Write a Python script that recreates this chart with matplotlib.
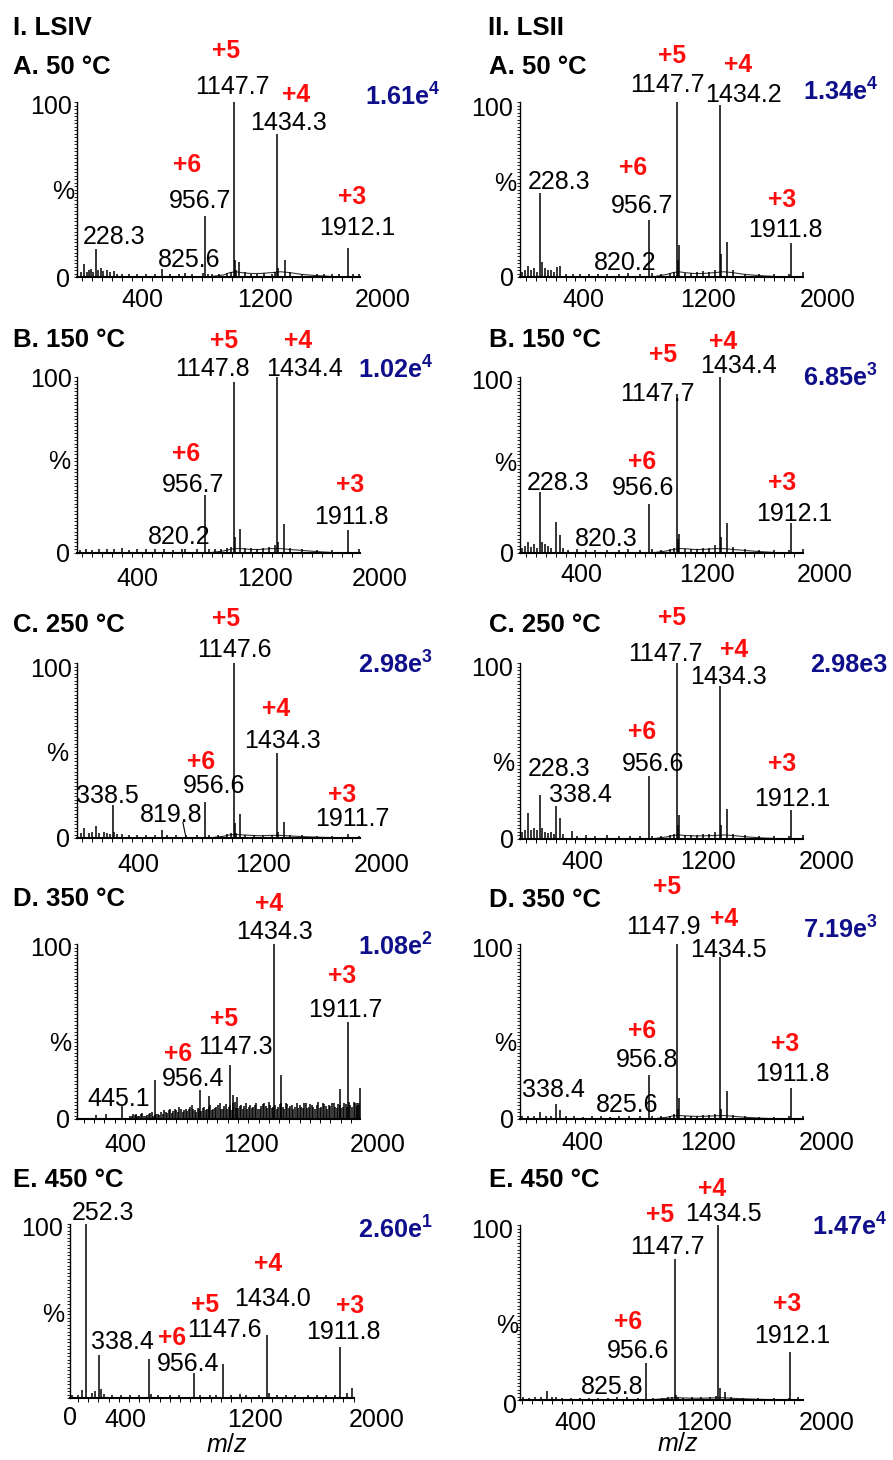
import numpy as np
import matplotlib
matplotlib.use('Agg')
import matplotlib.pyplot as plt
from matplotlib.ticker import MultipleLocator, NullLocator

plt.rcParams['font.family'] = ['Liberation Sans', 'DejaVu Sans']
plt.rcParams['mathtext.fontset'] = 'custom'
plt.rcParams['mathtext.rm'] = 'Liberation Sans'
plt.rcParams['mathtext.it'] = 'Liberation Sans:italic'
plt.rcParams['mathtext.bf'] = 'Liberation Sans:bold'

# ---------------- data (m/z, relative intensity %) ----------------
hump_mz = [1000, 1080, 1120, 1160, 1200, 1260, 1320, 1400, 1460, 1520, 1600, 1700, 1800]

# I. LSIV
IA_mz = [130, 149, 165, 180, 195, 210, 228.3, 240, 260, 275, 300, 320, 345, 365, 400, 450, 500, 560, 620, 665,
         720, 780, 820.2, 870, 940, 956.7, 975, 1000, 1050, 1100, 1130, 1147.7, 1152, 1165, 1182, 1220, 1260,
         1300, 1350, 1400, 1420, 1434.3, 1440, 1487, 1520, 1600, 1700, 1750, 1800, 1850, 1912.1, 1940, 1985]
IA_int = [3, 7.6, 3, 4, 4.5, 3, 16.2, 4, 5, 3.5, 4, 3, 3.5, 2, 1.5, 1.5, 2, 1.5, 1.5, 4.8,
          1.5, 2, 2.3, 1.5, 2.5, 34.9, 1.5, 1.5, 2, 2.5, 3, 100, 9.5, 4, 8.6, 3, 2,
          2, 2.5, 2, 3, 81.9, 5, 10, 3, 2, 1.5, 1.5, 1.5, 1.5, 16.6, 1.5, 2]
IA_hump = [0.3, 1.2, 2.5, 3, 2.5, 2, 2, 2.5, 3, 2.5, 1.5, 0.8, 0.3]

IB_mz = [120, 160, 200, 250, 300, 350, 400, 450, 500, 560, 620, 680, 740, 800, 820.2, 900, 956.7, 980, 1020,
         1060, 1100, 1130, 1147.8, 1152, 1187, 1220, 1260, 1300, 1340, 1380, 1420, 1434.4, 1442, 1480, 1520,
         1600, 1700, 1800, 1911.8, 1980]
IB_int = [1.5, 2, 1.5, 2, 2.5, 2, 3, 1.5, 2.5, 2, 2.5, 2, 1.5, 2, 2.5, 2.5, 33, 2, 2,
          2.5, 3, 3.5, 97.2, 8.9, 13.8, 3, 3, 2.5, 3, 3.5, 4.5, 100, 6, 16.6, 3,
          2, 1.5, 1.5, 12.8, 2]
IB_hump = [0.3, 1.2, 2, 2.5, 2.5, 2, 2, 2.5, 2.5, 2, 1.5, 0.8, 0.3]

IC_mz = [130, 150, 180, 200, 227, 250, 280, 300, 320, 338.5, 350, 370, 400, 450, 500, 560, 620, 665, 700, 760,
         825, 900, 956.6, 980, 1040, 1100, 1130, 1147.6, 1152, 1165, 1187, 1220, 1280, 1340, 1400, 1434.3, 1445,
         1480, 1520, 1600, 1700, 1800, 1911.7, 1980]
IC_int = [3, 5.7, 3, 3.5, 7, 3, 3.5, 3, 2.5, 19, 3.5, 2.5, 2.5, 2, 2, 1.5, 2, 4.4, 1.5, 1.5,
          1.5, 1.5, 20.5, 1.5, 1.5, 2.5, 3, 100, 8.5, 3, 13.9, 2, 1.5, 1.5, 2, 48.8, 3.5,
          9.1, 2, 1.5, 1, 1, 2.5, 1]
IC_hump = [0.2, 1, 1.8, 2, 1.8, 1.5, 1.3, 1.5, 1.5, 1.2, 0.8, 0.5, 0.2]

ID_mz = [280, 340, 445.1, 540, 664, 956.4, 1013, 1147.3, 1170, 1195, 1434.3, 1480, 1860, 1911.7, 1975, 1990]
ID_int = [2.5, 3, 7.6, 3, 22.1, 16.8, 13, 31, 13.9, 12.4, 100, 25.3, 17.1, 55.4, 9, 17.7]
ID_noise_mz = [500, 520, 540, 560, 580, 600, 620, 640, 660, 680,
               700, 720, 740, 760, 780, 800, 820, 840, 860, 880, 900, 920, 940, 960, 980,
               1000, 1020, 1040, 1060, 1080, 1100, 1120, 1140, 1160, 1180, 1200, 1220, 1240, 1260, 1280,
               1300, 1320, 1340, 1360, 1380, 1400, 1420, 1440, 1460, 1480, 1500, 1520, 1540, 1560, 1580,
               1600, 1620, 1640, 1660, 1680, 1700, 1720, 1740, 1760, 1780, 1800, 1820, 1840, 1860, 1880,
               1900, 1920, 1940, 1960, 1980]
ID_noise_int = [2, 3, 2.5, 2, 3.5, 2, 3, 4, 2.5, 3,
                4, 5, 3.5, 6, 4.5, 5, 7, 4, 6, 5.5, 8, 5, 6.5, 4.5, 7,
                6, 8, 5.5, 7, 9, 6, 8.5, 7, 5, 9.5, 6.5, 8, 7.5, 6, 8,
                7, 9, 6, 8.5, 7.5, 10, 6.5, 8, 7, 9, 6, 8.5, 7.5, 6, 9,
                8, 6.5, 9, 7, 8, 6, 9.5, 7, 8.5, 6, 7.5, 9, 6.5, 8, 7,
                8.5, 10, 7, 9, 8]
ID_noise2_mz = [510, 530, 550, 570, 590, 610, 630, 650, 670, 690,
                710, 730, 750, 770, 790, 810, 830, 850, 870, 890, 910, 930, 950, 970, 990,
                1010, 1030, 1050, 1070, 1090, 1110, 1130, 1150, 1170, 1190, 1210, 1230, 1250, 1270, 1290,
                1310, 1330, 1350, 1370, 1390, 1410, 1430, 1450, 1470, 1490, 1510, 1530, 1550, 1570, 1590,
                1610, 1630, 1650, 1670, 1690, 1710, 1730, 1750, 1770, 1790, 1810, 1830, 1850, 1870, 1890,
                1910, 1930, 1950, 1970, 1985]
ID_noise2_int = [1.5, 2.5, 2, 3, 2, 2.5, 3.5, 2, 3, 2.5,
                 3, 4, 5, 3.5, 5.5, 4, 6, 5, 4.5, 7, 6, 4, 5.5, 6.5, 5,
                 7, 5, 6.5, 8, 5.5, 7.5, 6, 8, 9, 6.5, 7.5, 5.5, 9, 7, 6.5,
                 8, 6, 7.5, 9, 6.5, 8, 7, 6, 8.5, 7, 9, 6.5, 8, 7, 6.5,
                 7, 9, 6.5, 8.5, 7, 8, 6.5, 9, 7.5, 8, 9, 7, 8.5, 6.5, 9,
                 7, 8, 9.5, 7.5, 9]

IE_mz = [160, 200, 226, 252.3, 290, 310, 338.4, 350, 370, 420, 480, 540, 600, 664, 680, 720, 800, 860, 956.4,
         1000, 1060, 1100, 1147.6, 1200, 1260, 1300, 1380, 1434.0, 1450, 1500, 1560, 1620, 1700, 1760, 1820,
         1880, 1911.8, 1960, 1990]
IE_int = [1.5, 2, 4.4, 100, 3, 4, 24.9, 5, 2.5, 1.5, 2, 1.5, 2, 22.6, 2.5, 1.5, 1.5, 2, 14.3,
          1.5, 2, 1.5, 19.7, 1.5, 2.5, 2, 1.5, 36.3, 3, 2, 1.5, 2, 1.5, 2, 1.5,
          2, 29.4, 3, 6]

# II. LSII
IIA_mz = [110, 130, 150, 170, 190, 210, 228.3, 245, 260, 280, 300, 320, 342, 362, 400, 450, 500, 560, 620, 680,
          760, 820.2, 900, 956.7, 980, 1040, 1100, 1130, 1147.7, 1152, 1160, 1200, 1240, 1280, 1320, 1360, 1400,
          1434.2, 1440, 1480, 1520, 1600, 1700, 1800, 1900, 1911.8, 1990]
IIA_int = [3, 4, 6.3, 4, 5, 3, 48, 8.6, 5, 4, 4, 3, 5.7, 6.3, 2, 1.5, 1.5, 1.5, 1.5, 1.5,
           2, 2.5, 1.5, 32.8, 2.5, 1.5, 2.5, 3, 100, 9.5, 18.1, 2.5, 2.5, 3, 3.5, 3, 4,
           98.1, 13, 20, 4, 2, 1.5, 1.5, 1.5, 19.4, 3]
IIA_hump = [0.3, 1.5, 2.5, 3, 2.5, 2, 2, 2.5, 3, 2.5, 1.5, 0.8, 0.3]

IIB_mz = [110, 130, 150, 170, 190, 210, 228.3, 245, 260, 280, 300, 338, 360, 380, 420, 480, 540, 600, 680, 760,
          820.3, 900, 956.6, 980, 1040, 1100, 1130, 1147.7, 1152, 1160, 1200, 1240, 1280, 1320, 1360, 1400,
          1434.4, 1440, 1480, 1520, 1600, 1700, 1800, 1900, 1912.1, 1990]
IIB_int = [3, 4, 6, 3.5, 5, 3, 34.5, 6, 5, 4, 3, 17.6, 10.4, 3, 1.5, 2, 1.5, 1.5, 1.5, 1.5,
           2, 1.5, 28, 2, 1.5, 2.5, 3, 90.5, 8, 11, 2, 2, 2.5, 3, 3, 4.5,
           100, 9, 17, 3.5, 2, 1.5, 1.5, 1.5, 17, 2.5]
IIB_hump = [0.3, 1.2, 2, 2.5, 2.5, 2, 2, 2.5, 2.5, 2, 1.5, 0.8, 0.3]

IIC_mz = [110, 130, 151, 170, 190, 210, 227, 245, 260, 280, 300, 320, 338, 360, 380, 444, 480, 540, 600, 680,
          760, 830, 900, 956.6, 980, 1040, 1100, 1130, 1147.7, 1152, 1160, 1200, 1240, 1280, 1320, 1360, 1400,
          1434.3, 1440, 1480, 1520, 1600, 1700, 1800, 1900, 1912.1, 1990]
IIC_int = [4, 5, 14.8, 5, 6, 5, 25.2, 6, 4, 3.5, 4, 3, 18.6, 12, 3, 4.4, 1.5, 2, 1.5, 2,
           1.5, 1.5, 1.5, 36, 1.5, 1.5, 2.5, 3, 100, 8, 13.8, 2, 2, 2.5, 3, 3, 4,
           87.1, 8, 17, 3, 2, 1.5, 1.5, 1.5, 16.3, 2.5]
IIC_hump = [0.3, 1.2, 2, 2.3, 2, 1.8, 1.8, 2, 2.3, 2, 1.3, 0.7, 0.3]

IID_mz = [110, 150, 190, 230, 270, 300, 338, 360, 400, 460, 520, 580, 640, 700, 760, 825.6, 900, 956.8, 980,
          1040, 1100, 1130, 1147.9, 1152, 1160, 1200, 1240, 1280, 1320, 1360, 1400, 1434.5, 1440, 1480, 1520,
          1600, 1700, 1800, 1900, 1911.8, 1990]
IID_int = [2, 1.5, 2, 3.8, 1.5, 2, 8.6, 5, 1.5, 1.5, 1, 1.5, 1.5, 1, 2, 2, 1.5, 24.9, 1.5,
           1.5, 2, 3, 100, 6, 12, 1.5, 1.5, 2, 2.5, 2.5, 3, 92.8, 6, 16.2, 2.5,
           1.5, 1, 1, 1.5, 17.7, 2]
IID_hump = [0.2, 1, 1.8, 2, 1.8, 1.5, 1.5, 1.8, 2, 1.6, 1, 0.5, 0.2]

IIE_mz = [140, 180, 220, 260, 300, 330, 360, 400, 460, 520, 580, 640, 700, 760, 825.8, 900, 956.6, 1000, 1060,
          1100, 1130, 1147.7, 1152, 1170, 1200, 1260, 1320, 1380, 1420, 1434.5, 1442, 1480, 1520, 1600, 1700,
          1800, 1900, 1912.1, 1960]
IIE_int = [1.5, 1, 2, 1.5, 5.3, 2, 1.5, 1, 1, 1, 1, 1, 1, 1.5, 1.5, 1, 21.3, 1, 1,
           1.5, 2, 80.4, 2.9, 2, 1, 1.5, 1.5, 2, 2.5, 100, 7, 4.8, 1.5, 1, 1,
           1, 1, 27.6, 1.5]
IIE_hump = [0.2, 0.8, 1.2, 1.3, 1.2, 1, 1, 1.2, 1.3, 1, 0.7, 0.4, 0.2]

for a, b in [(IA_mz, IA_int), (IB_mz, IB_int), (IC_mz, IC_int), (ID_mz, ID_int), (ID_noise_mz, ID_noise_int),
             (ID_noise2_mz, ID_noise2_int), (IE_mz, IE_int), (IIA_mz, IIA_int), (IIB_mz, IIB_int),
             (IIC_mz, IIC_int), (IID_mz, IID_int), (IIE_mz, IIE_int)]:
    assert len(a) == len(b), (len(a), len(b))

xtick_labels = ['400', '1200', '2000']

# ---------------- layout (pixels) ----------------
W, H = 893, 1460
fig = plt.figure(figsize=(W / 100, H / 100), dpi=100)

FS = 18
RED = '#ff0d0d'
BLUE = '#0f0f8c'


def T(px, py, s, size=FS, ha='center', color='black', weight='normal'):
    # py is the visual vertical centre of digit/cap-height glyphs
    off = 0.358 * size * 100 / 72
    fig.text(px / W, 1 - (py + off) / H, s, fontsize=size, ha=ha, va='baseline',
             color=color, fontweight=weight)


panels = [
    dict(box=(77, 102, 360, 277), xlim=(100, 1990), mz=IA_mz, it=IA_int, hump=IA_hump,
         title=('A. 50 °C', 13, 65), inten=(r'$\mathbf{1.61e^{4}}$', 440, 97),
         ylab=((72, 105), (63, 190), (63, 278)), xt=([142, 265, 383], 298),
         charges=[('+5', 226, 49), ('+4', 296, 93), ('+6', 187, 163), ('+3', 352, 195)],
         nums=[('1147.7', 232, 85), ('1434.3', 288, 121), ('956.7', 200, 199), ('1912.1', 357, 226),
               ('228.3', 114, 235), ('825.6', 189, 258)]),
    dict(box=(77, 377, 360, 553), xlim=(100, 1990), mz=IB_mz, it=IB_int, hump=IB_hump,
         title=('B. 150 °C', 13, 338), inten=(r'$\mathbf{1.02e^{4}}$', 433, 370),
         ylab=((72, 378), (59, 460), (63, 553)), xt=([137, 265, 380], 577),
         charges=[('+5', 224, 339), ('+4', 298, 339), ('+6', 186, 452), ('+3', 350, 483)],
         nums=[('1147.8', 212, 367), ('1434.4', 304, 367), ('956.7', 193, 483), ('1911.8', 351, 515),
               ('820.2', 179, 535)]),
    dict(box=(77, 663, 360, 838), xlim=(100, 1990), mz=IC_mz, it=IC_int, hump=IC_hump,
         title=('C. 250 °C', 13, 623), inten=(r'$\mathbf{2.98e^{3}}$', 433, 665),
         ylab=((72, 668), (57, 752), (63, 838)), xt=([138, 263, 382], 863),
         charges=[('+5', 226, 617), ('+4', 276, 707), ('+6', 201, 760), ('+3', 342, 793)],
         nums=[('1147.6', 234, 648), ('1434.3', 283, 739), ('956.6', 214, 784), ('1911.7', 352, 817),
               ('338.5', 107, 794), ('819.8', 171, 813)],
         leader=([807, 827], [9, 0.5])),
    dict(box=(77, 944, 360, 1119), xlim=(155, 1992), mz=ID_mz, it=ID_int, hump=None,
         noise=[(ID_noise_mz, ID_noise_int), (ID_noise2_mz, ID_noise2_int)],
         title=('D. 350 °C', 13, 897), inten=(r'$\mathbf{1.08e^{2}}$', 433, 947),
         ylab=((72, 947), (60, 1042), (63, 1119)), xt=([125, 251, 378], 1143),
         charges=[('+4', 269, 902), ('+3', 342, 974), ('+5', 224, 1017), ('+6', 178, 1052)],
         nums=[('1434.3', 275, 930), ('1911.7', 345, 1008), ('1147.3', 235, 1045), ('956.4', 193, 1077),
               ('445.1', 119, 1097)]),
    dict(box=(70, 1224, 354, 1398), xlim=(148, 2003), mz=IE_mz, it=IE_int, hump=None,
         title=('E. 450 °C', 13, 1178), inten=(r'$\mathbf{2.60e^{1}}$', 433, 1230),
         ylab=((63, 1227), (53, 1313), (70, 1416)), xt=([125, 255, 377], 1418),
         charges=[('+4', 268, 1262), ('+5', 205, 1303), ('+3', 350, 1304), ('+6', 172, 1336)],
         nums=[('252.3', 103, 1211), ('1434.0', 272, 1297), ('1147.6', 224, 1328), ('1911.8', 343, 1330),
               ('338.4', 122, 1340), ('956.4', 188, 1362)],
         mzlab=(227, 1443)),
    dict(box=(520, 102, 803, 277), xlim=(95, 1992), mz=IIA_mz, it=IIA_int, hump=IIA_hump,
         title=('A. 50 °C', 489, 65), inten=(r'$\mathbf{1.34e^{4}}$', 878, 92),
         ylab=((513, 107), (505, 182), (507, 277)), xt=([583, 708, 828], 298),
         charges=[('+5', 672, 54), ('+4', 738, 63), ('+6', 633, 166), ('+3', 782, 198)],
         nums=[('1147.7', 667, 83), ('1434.2', 743, 93), ('228.3', 559, 180), ('956.7', 642, 204),
               ('1911.8', 785, 228), ('820.2', 625, 261)]),
    dict(box=(520, 377, 803, 553), xlim=(95, 1992), mz=IIB_mz, it=IIB_int, hump=IIB_hump,
         title=('B. 150 °C', 489, 338), inten=(r'$\mathbf{6.85e^{3}}$', 878, 378),
         ylab=((513, 380), (505, 462), (507, 553)), xt=([581, 707, 825], 573),
         charges=[('+4', 723, 340), ('+5', 663, 353), ('+6', 642, 460), ('+3', 782, 481)],
         nums=[('1434.4', 738, 364), ('1147.7', 657, 392), ('228.3', 558, 481), ('956.6', 643, 486),
               ('1912.1', 794, 512), ('820.3', 606, 537)]),
    dict(box=(520, 663, 803, 839), xlim=(95, 1992), mz=IIC_mz, it=IIC_int, hump=IIC_hump,
         title=('C. 250 °C', 489, 623), inten=('2.98e3', 887, 663),
         ylab=((513, 667), (503, 762), (507, 839)), xt=([582, 708, 827], 860),
         charges=[('+5', 672, 616), ('+4', 734, 648), ('+6', 642, 730), ('+3', 782, 762)],
         nums=[('1147.7', 665, 652), ('1434.3', 728, 675), ('956.6', 653, 762), ('228.3', 559, 767),
               ('338.4', 580, 793), ('1912.1', 792, 797)]),
    dict(box=(520, 944, 803, 1119), xlim=(95, 1992), mz=IID_mz, it=IID_int, hump=IID_hump,
         title=('D. 350 °C', 489, 898), inten=(r'$\mathbf{7.19e^{3}}$', 878, 930),
         ylab=((513, 948), (505, 1042), (507, 1119)), xt=([582, 708, 827], 1141),
         charges=[('+5', 667, 885), ('+4', 724, 917), ('+6', 642, 1029), ('+3', 785, 1042)],
         nums=[('1147.9', 663, 925), ('1434.5', 728, 948), ('956.8', 647, 1058), ('1911.8', 792, 1072),
               ('338.4', 553, 1088), ('825.6', 627, 1103)]),
    dict(box=(520, 1225, 803, 1400), xlim=(120, 1995), mz=IIE_mz, it=IIE_int, hump=IIE_hump,
         title=('E. 450 °C', 489, 1178), inten=(r'$\mathbf{1.47e^{4}}$', 887, 1227),
         ylab=((513, 1229), (507, 1324), (510, 1404)), xt=([575, 704, 827], 1421),
         charges=[('+4', 712, 1187), ('+5', 660, 1213), ('+3', 787, 1302), ('+6', 628, 1320)],
         nums=[('1434.5', 723, 1212), ('1147.7', 667, 1245), ('956.6', 638, 1349), ('1912.1', 792, 1334),
               ('825.8', 612, 1385)],
         mzlab=(678, 1442)),
]

# column headers
T(13, 26, 'I. LSIV', size=18.5, ha='left', weight='bold')
T(488, 26, 'II. LSII', size=18.5, ha='left', weight='bold')

for p in panels:
    l, t, r, b = p['box']
    ax = fig.add_axes([l / W, 1 - b / H, (r - l) / W, (b - t) / H])
    ax.set_xlim(*p['xlim'])
    ax.set_ylim(0, 100)
    for s in ('top', 'right'):
        ax.spines[s].set_visible(False)
    ax.spines['left'].set_linewidth(1.0)
    ax.spines['bottom'].set_linewidth(1.5)
    ax.xaxis.set_major_locator(NullLocator())
    ax.yaxis.set_major_locator(NullLocator())
    ax.xaxis.set_minor_locator(MultipleLocator(66.67))
    ax.yaxis.set_minor_locator(MultipleLocator(2))
    ax.tick_params(axis='x', which='minor', length=3, width=0.7, direction='out')
    ax.tick_params(axis='y', which='minor', length=2, width=0.6, direction='out')
    ax.set_xticklabels([], minor=True)
    ax.set_yticklabels([], minor=True)
    ax.patch.set_alpha(0)

    for nmz, nint in p.get('noise', []):
        ax.vlines(nmz, 0, nint, color='black', lw=1.1, clip_on=False)
    if p['hump'] is not None:
        ax.plot(hump_mz, p['hump'], color='#333333', lw=0.8)
    ax.vlines(p['mz'], 0, p['it'], color='black', lw=1.1, clip_on=False)
    if p.get('leader'):
        ax.plot(p['leader'][0], p['leader'][1], color='black', lw=0.8)

    # titles / intensity
    tt, tx, ty = p['title']
    T(tx, ty, tt, size=18.5, ha='left', weight='bold')
    it_s, ix, iy = p['inten']
    T(ix, iy, it_s, size=18.2, ha='right', color=BLUE, weight='bold')

    # y labels
    (x100, y100), (xp, yp), (x0, y0) = p['ylab']
    T(x100, y100, '100', ha='right')
    T(xp, yp, '%')
    T(x0, y0, '0')

    # x tick labels
    xs, yx = p['xt']
    for lab, xx in zip(xtick_labels, xs):
        T(xx, yx, lab)

    for s, x, y in p['charges']:
        T(x, y, s, size=17.8, color=RED, weight='bold')
    for s, x, y in p['nums']:
        T(x, y, s)
    if p.get('mzlab'):
        mx, my = p['mzlab']
        T(mx, my, r'$m/z$')

fig.savefig('out.png', dpi=100)
